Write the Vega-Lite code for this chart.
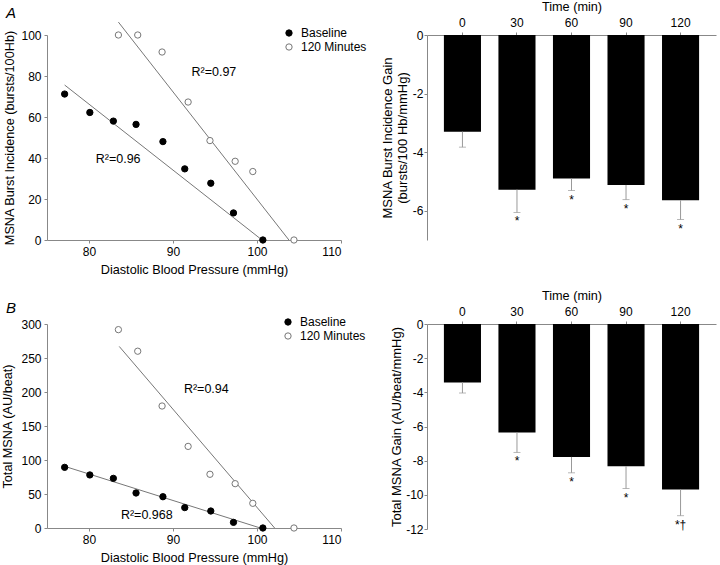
{
  "$schema": "https://vega.github.io/schema/vega-lite/v6.json",
  "background": "white",
  "padding": {"left": 1, "top": 0, "right": 4, "bottom": 2},
  "config": {
    "font": "Liberation Sans",
    "view": {"stroke": null},
    "axis": {"domainColor": "#888", "tickColor": "#888", "tickSize": 3, "labelFontSize": 12, "titleFontSize": 12.7, "titleFontWeight": "normal", "labelColor": "#000", "titleColor": "#000", "grid": false, "labelFont": "Liberation Sans", "titleFont": "Liberation Sans", "labelOverlap": false},
    "legend": {"labelFontSize": 12, "labelFont": "Liberation Sans", "symbolSize": 40, "symbolStrokeWidth": 1, "rowPadding": 2, "labelOffset": 6, "padding": 0, "symbolType": "circle"},
    "title": {"font": "Liberation Sans"}
  },
  "datasets": {
    "ptsA": [
      {"series": "Baseline", "x": 77.1, "y": 71.2}, {"series": "Baseline", "x": 80.1, "y": 62.2}, {"series": "Baseline", "x": 82.9, "y": 58},
      {"series": "Baseline", "x": 85.6, "y": 56.4}, {"series": "Baseline", "x": 88.8, "y": 48}, {"series": "Baseline", "x": 91.4, "y": 34.7},
      {"series": "Baseline", "x": 94.5, "y": 27.7}, {"series": "Baseline", "x": 97.2, "y": 13.2}, {"series": "Baseline", "x": 100.7, "y": 0},
      {"series": "120 Minutes", "x": 83.5, "y": 100}, {"series": "120 Minutes", "x": 85.8, "y": 100}, {"series": "120 Minutes", "x": 88.7, "y": 91.7},
      {"series": "120 Minutes", "x": 91.8, "y": 67.3}, {"series": "120 Minutes", "x": 94.4, "y": 48.5}, {"series": "120 Minutes", "x": 97.4, "y": 38.4},
      {"series": "120 Minutes", "x": 99.5, "y": 33.4}, {"series": "120 Minutes", "x": 104.4, "y": 0}
    ],
    "fitA": [
      {"series": "Baseline", "x": 77.1, "y": 75.6}, {"series": "Baseline", "x": 100.6, "y": 0},
      {"series": "120 Minutes", "x": 83.5, "y": 106.3}, {"series": "120 Minutes", "x": 103.8, "y": 0}
    ],
    "r2A": [
      {"x": 92.2, "y": 82, "label": "R²=0.97"},
      {"x": 80.8, "y": 39.4, "label": "R²=0.96"}
    ],
    "ptsB": [
      {"series": "Baseline", "x": 77.1, "y": 89.2}, {"series": "Baseline", "x": 80.1, "y": 78}, {"series": "Baseline", "x": 82.9, "y": 73},
      {"series": "Baseline", "x": 85.6, "y": 51.5}, {"series": "Baseline", "x": 88.8, "y": 46}, {"series": "Baseline", "x": 91.4, "y": 30},
      {"series": "Baseline", "x": 94.5, "y": 25}, {"series": "Baseline", "x": 97.2, "y": 8.3}, {"series": "Baseline", "x": 100.7, "y": 0},
      {"series": "120 Minutes", "x": 83.5, "y": 291.7}, {"series": "120 Minutes", "x": 85.8, "y": 260}, {"series": "120 Minutes", "x": 88.7, "y": 179.4},
      {"series": "120 Minutes", "x": 91.8, "y": 120}, {"series": "120 Minutes", "x": 94.4, "y": 79}, {"series": "120 Minutes", "x": 97.4, "y": 65.2},
      {"series": "120 Minutes", "x": 99.5, "y": 36.3}, {"series": "120 Minutes", "x": 104.4, "y": 0}
    ],
    "fitB": [
      {"series": "Baseline", "x": 77.1, "y": 90.7}, {"series": "Baseline", "x": 100.4, "y": 0},
      {"series": "120 Minutes", "x": 83.6, "y": 267}, {"series": "120 Minutes", "x": 102.1, "y": 0}
    ],
    "r2B": [
      {"x": 91.3, "y": 204, "label": "R²=0.94"},
      {"x": 83.8, "y": 19, "label": "R²=0.968"}
    ],
    "barsA": [
      {"time": 0, "value": -3.30, "err": -3.83, "sig": ""},
      {"time": 30, "value": -5.28, "err": -6.06, "sig": "*"},
      {"time": 60, "value": -4.90, "err": -5.31, "sig": "*"},
      {"time": 90, "value": -5.12, "err": -5.62, "sig": "*"},
      {"time": 120, "value": -5.64, "err": -6.30, "sig": "*"}
    ],
    "barsB": [
      {"time": 0, "value": -3.42, "err": -4.04, "sig": ""},
      {"time": 30, "value": -6.35, "err": -7.52, "sig": "*"},
      {"time": 60, "value": -7.78, "err": -8.71, "sig": "*"},
      {"time": 90, "value": -8.32, "err": -9.63, "sig": "*"},
      {"time": 120, "value": -9.69, "err": -11.22, "sig": "*†"}
    ]
  },
  "spacing": 13,
  "resolve": {"scale": {"fill": "independent", "stroke": "independent"}, "legend": {"fill": "independent", "stroke": "independent"}},
  "vconcat": [
    {
      "hconcat": [
        {
          "width": 294, "height": 205,
          "title": {"text": "A", "anchor": "start", "frame": "group", "fontStyle": "italic", "fontSize": 15, "fontWeight": "normal", "dx": -41, "dy": 3, "offset": 2},
          "layer": [
            {
              "data": {"name": "fitA"},
              "mark": {"type": "line", "color": "#777", "strokeWidth": 1},
              "encoding": {
                "x": {"field": "x", "type": "quantitative", "scale": {"domain": [75, 110], "nice": false, "zero": false}, "axis": {"values": [80, 90, 100, 110], "tickCount": 20, "format": "d", "title": "Diastolic Blood Pressure (mmHg)", "labelPadding": 3, "titlePadding": 6}},
                "y": {"field": "y", "type": "quantitative", "scale": {"domain": [0, 100], "nice": false}, "axis": {"values": [0, 20, 40, 60, 80, 100], "tickCount": 20, "format": "d", "title": "MSNA Burst Incidence (bursts/100Hb)", "labelPadding": 3, "titlePadding": 4}},
                "detail": {"field": "series"}
              }
            },
            {
              "data": {"name": "ptsA"},
              "mark": {"type": "point", "shape": "circle", "filled": true, "size": 40, "strokeWidth": 1, "opacity": 1},
              "encoding": {
                "x": {"field": "x", "type": "quantitative"},
                "y": {"field": "y", "type": "quantitative"},
                "fill": {"field": "series", "type": "nominal", "scale": {"domain": ["Baseline", "120 Minutes"], "range": ["#000000", "#ffffff"]}, "legend": {"orient": "none", "legendX": 236, "legendY": -8, "title": null}},
                "stroke": {"field": "series", "type": "nominal", "scale": {"domain": ["Baseline", "120 Minutes"], "range": ["#000000", "#777777"]}, "legend": {"orient": "none", "legendX": 236, "legendY": -8, "title": null}}
              }
            },
            {
              "data": {"name": "r2A"},
              "mark": {"type": "text", "align": "left", "baseline": "middle", "fontSize": 12.5},
              "encoding": {
                "x": {"field": "x", "type": "quantitative"},
                "y": {"field": "y", "type": "quantitative"},
                "text": {"field": "label"}
              }
            }
          ]
        },
        {
          "width": 289, "height": 205,
          "data": {"name": "barsA"},
          "encoding": {
            "x": {"field": "time", "type": "ordinal", "scale": {"paddingInner": 0.32, "paddingOuter": 0.31}, "axis": {"orient": "top", "title": "Time (min)", "labelAngle": 0, "labelPadding": 2.5, "titlePadding": 3}}
          },
          "layer": [
            {
              "mark": {"type": "bar", "color": "#000000"},
              "encoding": {
                "y": {"field": "value", "type": "quantitative", "scale": {"domain": [-7, 0], "nice": false}, "axis": {"values": [0, -2, -4, -6], "tickCount": 20, "format": "d", "labelExpr": "replace(datum.label, '−', '-')", "title": ["MSNA Burst Incidence Gain", "(bursts/100 Hb/mmHg)"], "labelPadding": 1, "titlePadding": 3, "titleLineHeight": 15, "titleFontSize": 13}}
              }
            },
            {
              "mark": {"type": "rule", "color": "#999999", "strokeWidth": 1},
              "encoding": {"y": {"field": "value", "type": "quantitative"}, "y2": {"field": "err"}}
            },
            {
              "mark": {"type": "tick", "color": "#999999", "size": 7, "thickness": 1, "orient": "horizontal"},
              "encoding": {"y": {"field": "err", "type": "quantitative"}}
            },
            {
              "mark": {"type": "text", "baseline": "alphabetic", "dy": 13, "fontSize": 12, "color": "#000000"},
              "encoding": {"y": {"field": "err", "type": "quantitative"}, "text": {"field": "sig"}}
            }
          ]
        }
      ],
      "spacing": 86,
      "bounds": "flush",
      "resolve": {"scale": {"fill": "independent", "stroke": "independent"}, "legend": {"fill": "independent", "stroke": "independent"}}
    },
    {
      "hconcat": [
        {
          "width": 294, "height": 204,
          "title": {"text": "B", "anchor": "start", "frame": "group", "fontStyle": "italic", "fontSize": 15, "fontWeight": "normal", "dx": -41, "dy": 2, "offset": 2},
          "layer": [
            {
              "data": {"name": "fitB"},
              "mark": {"type": "line", "color": "#777", "strokeWidth": 1},
              "encoding": {
                "x": {"field": "x", "type": "quantitative", "scale": {"domain": [75, 110], "nice": false, "zero": false}, "axis": {"values": [80, 90, 100, 110], "tickCount": 20, "format": "d", "title": "Diastolic Blood Pressure (mmHg)", "labelPadding": 3, "titlePadding": 6}},
                "y": {"field": "y", "type": "quantitative", "scale": {"domain": [0, 300], "nice": false}, "axis": {"values": [0, 50, 100, 150, 200, 250, 300], "tickCount": 20, "format": "d", "title": "Total MSNA (AU/beat)", "labelPadding": 3, "titlePadding": 6.5}},
                "detail": {"field": "series"}
              }
            },
            {
              "data": {"name": "ptsB"},
              "mark": {"type": "point", "shape": "circle", "filled": true, "size": 40, "strokeWidth": 1, "opacity": 1},
              "encoding": {
                "x": {"field": "x", "type": "quantitative"},
                "y": {"field": "y", "type": "quantitative"},
                "fill": {"field": "series", "type": "nominal", "scale": {"domain": ["Baseline", "120 Minutes"], "range": ["#000000", "#ffffff"]}, "legend": {"orient": "none", "legendX": 235, "legendY": -8, "title": null}},
                "stroke": {"field": "series", "type": "nominal", "scale": {"domain": ["Baseline", "120 Minutes"], "range": ["#000000", "#777777"]}, "legend": {"orient": "none", "legendX": 235, "legendY": -8, "title": null}}
              }
            },
            {
              "data": {"name": "r2B"},
              "mark": {"type": "text", "align": "left", "baseline": "middle", "fontSize": 12.5},
              "encoding": {
                "x": {"field": "x", "type": "quantitative"},
                "y": {"field": "y", "type": "quantitative"},
                "text": {"field": "label"}
              }
            }
          ]
        },
        {
          "width": 289, "height": 205,
          "data": {"name": "barsB"},
          "encoding": {
            "x": {"field": "time", "type": "ordinal", "scale": {"paddingInner": 0.32, "paddingOuter": 0.31}, "axis": {"orient": "top", "title": "Time (min)", "labelAngle": 0, "labelPadding": 2.5, "titlePadding": 3}}
          },
          "layer": [
            {
              "mark": {"type": "bar", "color": "#000000"},
              "encoding": {
                "y": {"field": "value", "type": "quantitative", "scale": {"domain": [-12, 0], "nice": false}, "axis": {"values": [0, -2, -4, -6, -8, -10, -12], "tickCount": 20, "format": "d", "labelExpr": "replace(datum.label, '−', '-')", "title": "Total MSNA Gain (AU/beat/mmHg)", "labelPadding": 1, "titlePadding": 2, "titleFontSize": 13}}
              }
            },
            {
              "mark": {"type": "rule", "color": "#999999", "strokeWidth": 1},
              "encoding": {"y": {"field": "value", "type": "quantitative"}, "y2": {"field": "err"}}
            },
            {
              "mark": {"type": "tick", "color": "#999999", "size": 7, "thickness": 1, "orient": "horizontal"},
              "encoding": {"y": {"field": "err", "type": "quantitative"}}
            },
            {
              "mark": {"type": "text", "baseline": "alphabetic", "dy": 13, "fontSize": 12, "color": "#000000"},
              "encoding": {"y": {"field": "err", "type": "quantitative"}, "text": {"field": "sig"}}
            }
          ]
        }
      ],
      "spacing": 86,
      "bounds": "flush",
      "resolve": {"scale": {"fill": "independent", "stroke": "independent"}, "legend": {"fill": "independent", "stroke": "independent"}}
    }
  ]
}
